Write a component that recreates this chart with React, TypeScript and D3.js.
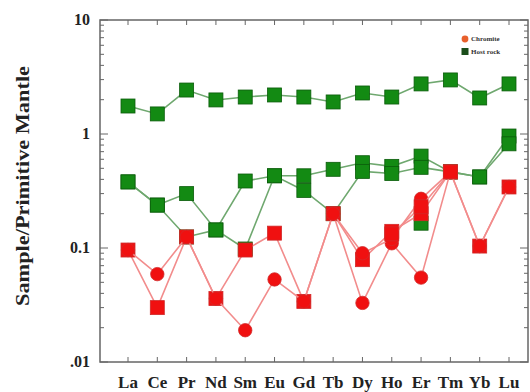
import React from "react";
import * as d3 from "d3";

const elements = ["La", "Ce", "Pr", "Nd", "Sm", "Eu", "Gd", "Tb", "Dy", "Ho", "Er", "Tm", "Yb", "Lu"];

// host rock profiles
const host1 = [1.76, 1.5, 2.43, 1.99, 2.11, 2.2, 2.11, 1.91, 2.29, 2.11, 2.75, 2.98, 2.07, 2.75];
const host2 = [0.38, 0.238, 0.3, 0.144, 0.387, 0.43, 0.43, 0.49, 0.56, 0.52, 0.64, 0.465, 0.42, 0.96];
const host3 = [0.38, 0.238, 0.125, 0.144, 0.098, 0.43, 0.32, 0.2, 0.47, 0.45, 0.51, 0.465, 0.42, 0.82];
const host4 = [null, null, null, null, null, null, null, null, null, null, 0.165, null, null, null];

// chromite profiles
const chr1 = [0.096, 0.03, 0.125, 0.036, 0.096, 0.135, 0.034, 0.2, 0.079, 0.14, 0.2, 0.465, 0.104, 0.343];
const chr2 = [0.096, 0.059, 0.125, 0.036, 0.019, 0.053, 0.034, 0.2, 0.033, 0.11, 0.055, 0.465, 0.104, 0.343];
const chr3 = [null, null, null, null, null, null, null, 0.2, 0.09, 0.12, 0.27, 0.465, null, null];
const chr4 = [null, null, null, null, null, null, null, null, null, 0.133, 0.23, 0.465, null, null];

const yTicks = [10, 1, 0.1, 0.01];
const yTickLabels = ["10", "1", "0.1", ".01"];

const W = 530, H = 392;
const left = 100, right = 528, top = 20, bottom = 362;
const serif = "Liberation Serif";

export default function App() {
  const x = d3.scalePoint<string>().domain(elements).range([128, 509]);
  const y = d3.scaleLog().domain([0.01, 10]).range([bottom, top]);

  const line = d3
    .line<number | null>()
    .defined(d => d != null)
    .x((_, i) => x(elements[i]) as number)
    .y(d => y(d as number));

  const minor: number[] = [];
  for (let e = -2; e < 1; e++) for (let k = 2; k <= 9; k++) minor.push(k * Math.pow(10, e));

  const drawSeries = (vals: (number | null)[], kind: "host" | "chr", shape: "sq" | "ci", key: string) => (
    <g key={key}>
      <path d={line(vals) || ""} fill="none" stroke={kind === "host" ? "#6fa86f" : "#f28c8c"} strokeWidth={1.6} />
      {vals.map((v, i) => {
        if (v == null) return null;
        const cx = x(elements[i]) as number;
        const cy = y(v);
        const fill = kind === "host" ? "#138a13" : "#f01010";
        const stroke = kind === "host" ? "#0b5c0b" : "#d02a2a";
        return shape === "sq" ? (
          <rect key={i} x={cx - 7} y={cy - 7} width={14} height={14} fill={fill} stroke={stroke} strokeWidth={0.8} />
        ) : (
          <circle key={i} cx={cx} cy={cy} r={6.7} fill={fill} stroke={stroke} strokeWidth={0.8} />
        );
      })}
    </g>
  );

  return (
    <svg width={W} height={H} style={{ position: "absolute", left: 0, top: 0, background: "#fff" }}>
      {/* frame */}
      <rect x={left} y={top} width={right - left} height={bottom - top} fill="none" stroke="#666" strokeWidth={1.5} />

      {/* y ticks */}
      {yTicks.map(t => (
        <g key={t}>
          <line x1={left} x2={left + 8} y1={y(t)} y2={y(t)} stroke="#666" strokeWidth={1} />
          <line x1={right} x2={right - 8} y1={y(t)} y2={y(t)} stroke="#666" strokeWidth={1} />
        </g>
      ))}
      {minor.map(t => (
        <g key={"m" + t}>
          <line x1={left} x2={left + 4} y1={y(t)} y2={y(t)} stroke="#666" strokeWidth={1} />
          <line x1={right} x2={right - 4} y1={y(t)} y2={y(t)} stroke="#666" strokeWidth={1} />
        </g>
      ))}
      {yTicks.map((t, i) => (
        <text key={"l" + t} x={90} y={y(t)} dy="0.33em" textAnchor="end" fontFamily={serif} fontWeight="bold" fontSize={16} fill="#222">
          {yTickLabels[i]}
        </text>
      ))}

      {/* x ticks */}
      {elements.map(el => (
        <g key={el}>
          <line x1={x(el)} x2={x(el)} y1={top} y2={top + 5} stroke="#666" strokeWidth={1} />
          <line x1={x(el)} x2={x(el)} y1={bottom} y2={bottom - 5} stroke="#666" strokeWidth={1} />
          <text x={x(el)} y={388} textAnchor="middle" fontFamily={serif} fontWeight="bold" fontSize={17} fill="#222">
            {el}
          </text>
        </g>
      ))}

      {/* axis title */}
      <text
        transform={`translate(22,186) rotate(-90)`}
        dy="0.35em"
        textAnchor="middle"
        fontFamily={serif}
        fontWeight="bold"
        fontSize={19}
        textLength={240}
        lengthAdjust="spacingAndGlyphs"
        fill="#222"
      >
        Sample/Primitive Mantle
      </text>

      {/* series */}
      {drawSeries(host1, "host", "sq", "h1")}
      {drawSeries(host2, "host", "sq", "h2")}
      {drawSeries(host3, "host", "sq", "h3")}
      {drawSeries(host4, "host", "sq", "h4")}
      {drawSeries(chr1, "chr", "sq", "c1")}
      {drawSeries(chr2, "chr", "ci", "c2")}
      {drawSeries(chr3, "chr", "ci", "c3")}
      {drawSeries(chr4, "chr", "sq", "c4")}

      {/* legend */}
      <circle cx={465} cy={39} r={3.4} fill="#e8602c" />
      <text x={471} y={39} dy="0.35em" fontFamily={serif} fontWeight="bold" fontSize={7} fill="#333">Chromite</text>
      <rect x={461.5} y={48} width={7} height={7} fill="#1a4d1a" />
      <text x={471} y={51.5} dy="0.35em" fontFamily={serif} fontWeight="bold" fontSize={7} fill="#333">Host rock</text>
    </svg>
  );
}
